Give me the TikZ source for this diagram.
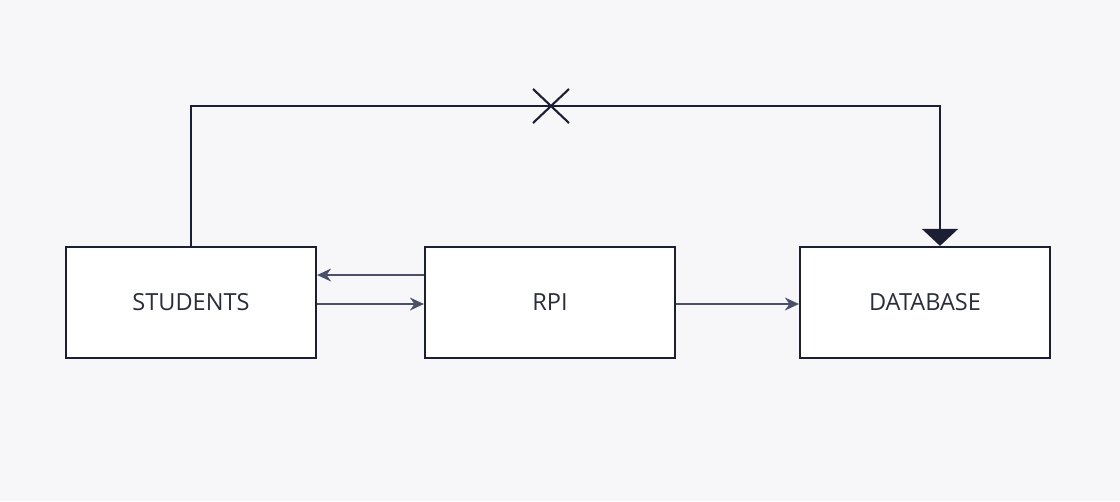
\documentclass[tikz,border=0pt]{standalone}
\usepackage{fontspec}
\setmainfont{Open Sans}
\usetikzlibrary{arrows.meta,calc}
\definecolor{bg}{HTML}{F7F7FA}
\definecolor{navy}{HTML}{1C1F33}
\definecolor{slate}{HTML}{4A5068}
\definecolor{txt}{HTML}{2A2D3A}
\tikzset{
  box/.style={draw=navy, line width=1.3pt, fill=white, minimum width=5cm, minimum height=2.22cm, inner sep=0pt, text=txt, font=\fontsize{13.4}{15}\selectfont},
  flow/.style={draw=slate, line width=0.8pt, -{Stealth[length=0.28cm,width=0.26cm]}},
  link/.style={draw=navy, line width=1.2pt},
}
\begin{document}
\begin{tikzpicture}[x=0.02cm,y=-0.02cm]
\fill[bg] (0,0) rectangle (1120,501);
\useasboundingbox (0,0) rectangle (1120,501);
\node[box] (students) at (191,302.5) {\raisebox{-0.02cm}{STUDENTS}};
\node[box] (rpi) at (550,302.5) {\raisebox{-0.02cm}{RPI}};
\node[box] (database) at (925,302.5) {\raisebox{-0.02cm}{DATABASE}};
\coordinate (corner) at (191,106);
\draw[flow] ([yshift=0.55cm]rpi.west) -- ([yshift=0.55cm]students.east);
\draw[flow] ([yshift=-0.03cm]students.east) -- ([yshift=-0.03cm]rpi.west);
\draw[flow] ([yshift=-0.03cm]rpi.east) -- ([yshift=-0.03cm]database.west);
\draw[link, -{Triangle[length=0.34cm,width=0.72cm]}] (students.north) -- (corner) -| ([xshift=0.3cm]database.north);
\draw[navy, line width=1.2pt] (533,89) -- (569,123) (533,123) -- (569,89);
\end{tikzpicture}
\end{document}
